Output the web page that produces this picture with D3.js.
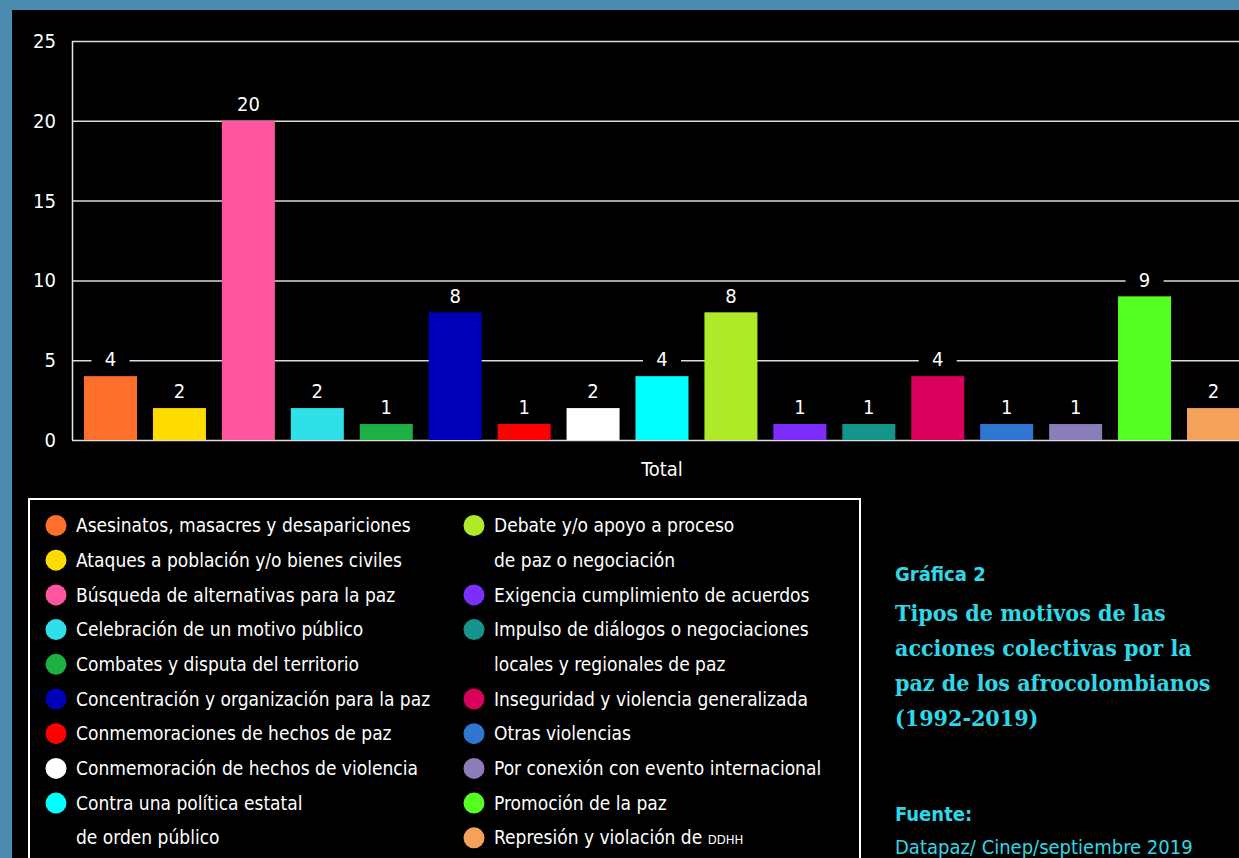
<!DOCTYPE html>
<html>
<head>
<meta charset="utf-8">
<script src="https://cdn.jsdelivr.net/npm/d3@7.9.0/dist/d3.min.js"></script>
<style>
  html, body { margin: 0; padding: 0; background: #4b8cae; overflow: hidden; }
  svg { display: block; }
  .sans { font-family: "Liberation Sans Narrow", "DejaVu Sans Condensed", sans-serif; }
</style>
</head>
<body>
<svg id="chart" width="1239" height="858"></svg>
<script>
// data
const categories = [
  'Asesinatos, masacres y desapariciones',
  'Ataques a población y/o bienes civiles',
  'Búsqueda de alternativas para la paz',
  'Celebración de un motivo público',
  'Combates y disputa del territorio',
  'Concentración y organización para la paz',
  'Conmemoraciones de hechos de paz',
  'Conmemoración de hechos de violencia',
  'Contra una política estatal\nde orden público',
  'Debate y/o apoyo a proceso\nde paz o negociación',
  'Exigencia cumplimiento de acuerdos',
  'Impulso de diálogos o negociaciones\nlocales y regionales de paz',
  'Inseguridad y violencia generalizada',
  'Otras violencias',
  'Por conexión con evento internacional',
  'Promoción de la paz',
  'Represión y violación de DDHH'
];
const values = [4, 2, 20, 2, 1, 8, 1, 2, 4, 8, 1, 1, 4, 1, 1, 9, 2];
const colors = [
  '#ff6f2c', '#ffdc00', '#ff559e', '#30e0e8', '#1db143', '#0000b8',
  '#ff0000', '#ffffff', '#00ffff', '#aeea28', '#7c2ffc', '#15948c',
  '#d8005a', '#2f76d2', '#8b7db8', '#55ff22', '#f4a25a'
];
const yTicks = [0, 5, 10, 15, 20, 25];
const axisTitle = 'Total';
const titleNumber = 'Gráfica 2';
const titleLines = ['Tipos de motivos de las', 'acciones colectivas por la', 'paz de los afrocolombianos', '(1992-2019)'];
const sourceLabel = 'Fuente:';
const sourceText = 'Datapaz/ Cinep/septiembre 2019';

const svg = d3.select('#chart');
const cyan = '#2fd8e6';

// outer frame
svg.append('rect').attr('width', 1239).attr('height', 858).attr('fill', '#4b8cae');
svg.append('rect').attr('x', 12).attr('y', 10).attr('width', 1227).attr('height', 848).attr('fill', '#000');

const x = d3.scaleBand()
  .domain(d3.range(values.length))
  .range([72, 1252])
  .paddingInner(0.231)
  .paddingOuter(0.174);

const y = d3.scaleLinear().domain([0, 25]).range([440, 41]);

// gridlines + tick labels
const yAxis = d3.axisLeft(y)
  .tickValues(yTicks)
  .tickSize(-(1239 - 72))
  .tickPadding(16);

const gy = svg.append('g')
  .attr('class', 'sans')
  .attr('transform', 'translate(72,0)')
  .call(yAxis);
gy.select('.domain').remove();
gy.selectAll('.tick line').attr('stroke', '#dcdcdc').attr('stroke-width', 1.5);
gy.selectAll('.tick text')
  .attr('fill', '#fff')
  .style('font-size', '20px')
  .style('font-family', '"Liberation Sans Narrow", "DejaVu Sans Condensed", sans-serif');

svg.append('line')
  .attr('x1', 72.5).attr('x2', 72.5)
  .attr('y1', y(25)).attr('y2', y(0))
  .attr('stroke', '#e6e6e6').attr('stroke-width', 1.5);

// bars
svg.append('g')
  .selectAll('rect')
  .data(values)
  .join('rect')
  .attr('x', (d, i) => x(i))
  .attr('y', d => y(d))
  .attr('width', x.bandwidth())
  .attr('height', d => y(0) - y(d))
  .attr('fill', (d, i) => colors[i]);

// value labels, black box cuts the gridline behind them
const labels = svg.append('g').attr('class', 'sans');
const lab = labels.selectAll('g')
  .data(values)
  .join('g')
  .attr('transform', (d, i) => `translate(${x(i) + x.bandwidth() / 2},${y(d) - 17})`);
lab.append('rect')
  .attr('x', -19).attr('y', -11).attr('width', 38).attr('height', 22)
  .attr('fill', '#000');
lab.append('text')
  .attr('text-anchor', 'middle')
  .attr('dy', '0.36em')
  .attr('fill', '#fff')
  .style('font-size', '20px')
  .text(d => d);

svg.append('text')
  .attr('class', 'sans')
  .attr('x', (x(0) + x(values.length - 1) + x.bandwidth()) / 2)
  .attr('y', 476)
  .attr('text-anchor', 'middle')
  .attr('fill', '#fff')
  .style('font-size', '20px')
  .text(axisTitle);

// legend
svg.append('rect')
  .attr('x', 29).attr('y', 499).attr('width', 831).attr('height', 400)
  .attr('fill', 'none').attr('stroke', '#fff').attr('stroke-width', 2);

const rowH = 34.7;
const leftCount = 9;
let rowL = 0, rowR = 0;
const legendItems = categories.map((c, i) => {
  const lines = c.split('\n');
  const left = i < leftCount;
  const row = left ? rowL : rowR;
  if (left) rowL += lines.length; else rowR += lines.length;
  return { lines, color: colors[i], cx: left ? 56 : 474, cy: 525.5 + row * rowH };
});

const lg = svg.append('g').attr('class', 'sans');
const li = lg.selectAll('g').data(legendItems).join('g');
li.append('circle')
  .attr('cx', d => d.cx).attr('cy', d => d.cy).attr('r', 10.5)
  .attr('fill', d => d.color);
li.each(function (d) {
  const g = d3.select(this);
  d.lines.forEach((line, k) => {
    const t = g.append('text')
      .attr('x', d.cx + 20)
      .attr('y', d.cy + k * rowH)
      .attr('dy', '0.35em')
      .attr('fill', '#fff')
      .style('font-size', '19px');
    const parts = line.split('DDHH');
    t.append('tspan').text(parts[0]);
    if (parts.length > 1) t.append('tspan').style('font-size', '13px').text('DDHH');
  });
});

// title block
const tb = svg.append('g');
tb.append('text')
  .attr('x', 895).attr('y', 581)
  .attr('fill', cyan)
  .style('font-family', '"DejaVu Sans Condensed", sans-serif')
  .style('font-weight', 'bold')
  .style('font-size', '20px')
  .text(titleNumber);
tb.selectAll('text.t')
  .data(titleLines)
  .join('text')
  .attr('class', 't')
  .attr('x', 895)
  .attr('y', (d, i) => 621 + i * 35)
  .attr('fill', cyan)
  .style('font-family', '"DejaVu Serif Condensed", serif')
  .style('font-weight', 'bold')
  .style('font-size', '23px')
  .text(d => d);
tb.append('text')
  .attr('x', 895).attr('y', 821)
  .attr('fill', cyan)
  .style('font-family', '"DejaVu Sans Condensed", sans-serif')
  .style('font-weight', 'bold')
  .style('font-size', '20px')
  .text(sourceLabel);
tb.append('text')
  .attr('x', 895).attr('y', 854)
  .attr('fill', cyan)
  .attr('class', 'sans')
  .style('font-size', '20px')
  .text(sourceText);
</script>
</body>
</html>
